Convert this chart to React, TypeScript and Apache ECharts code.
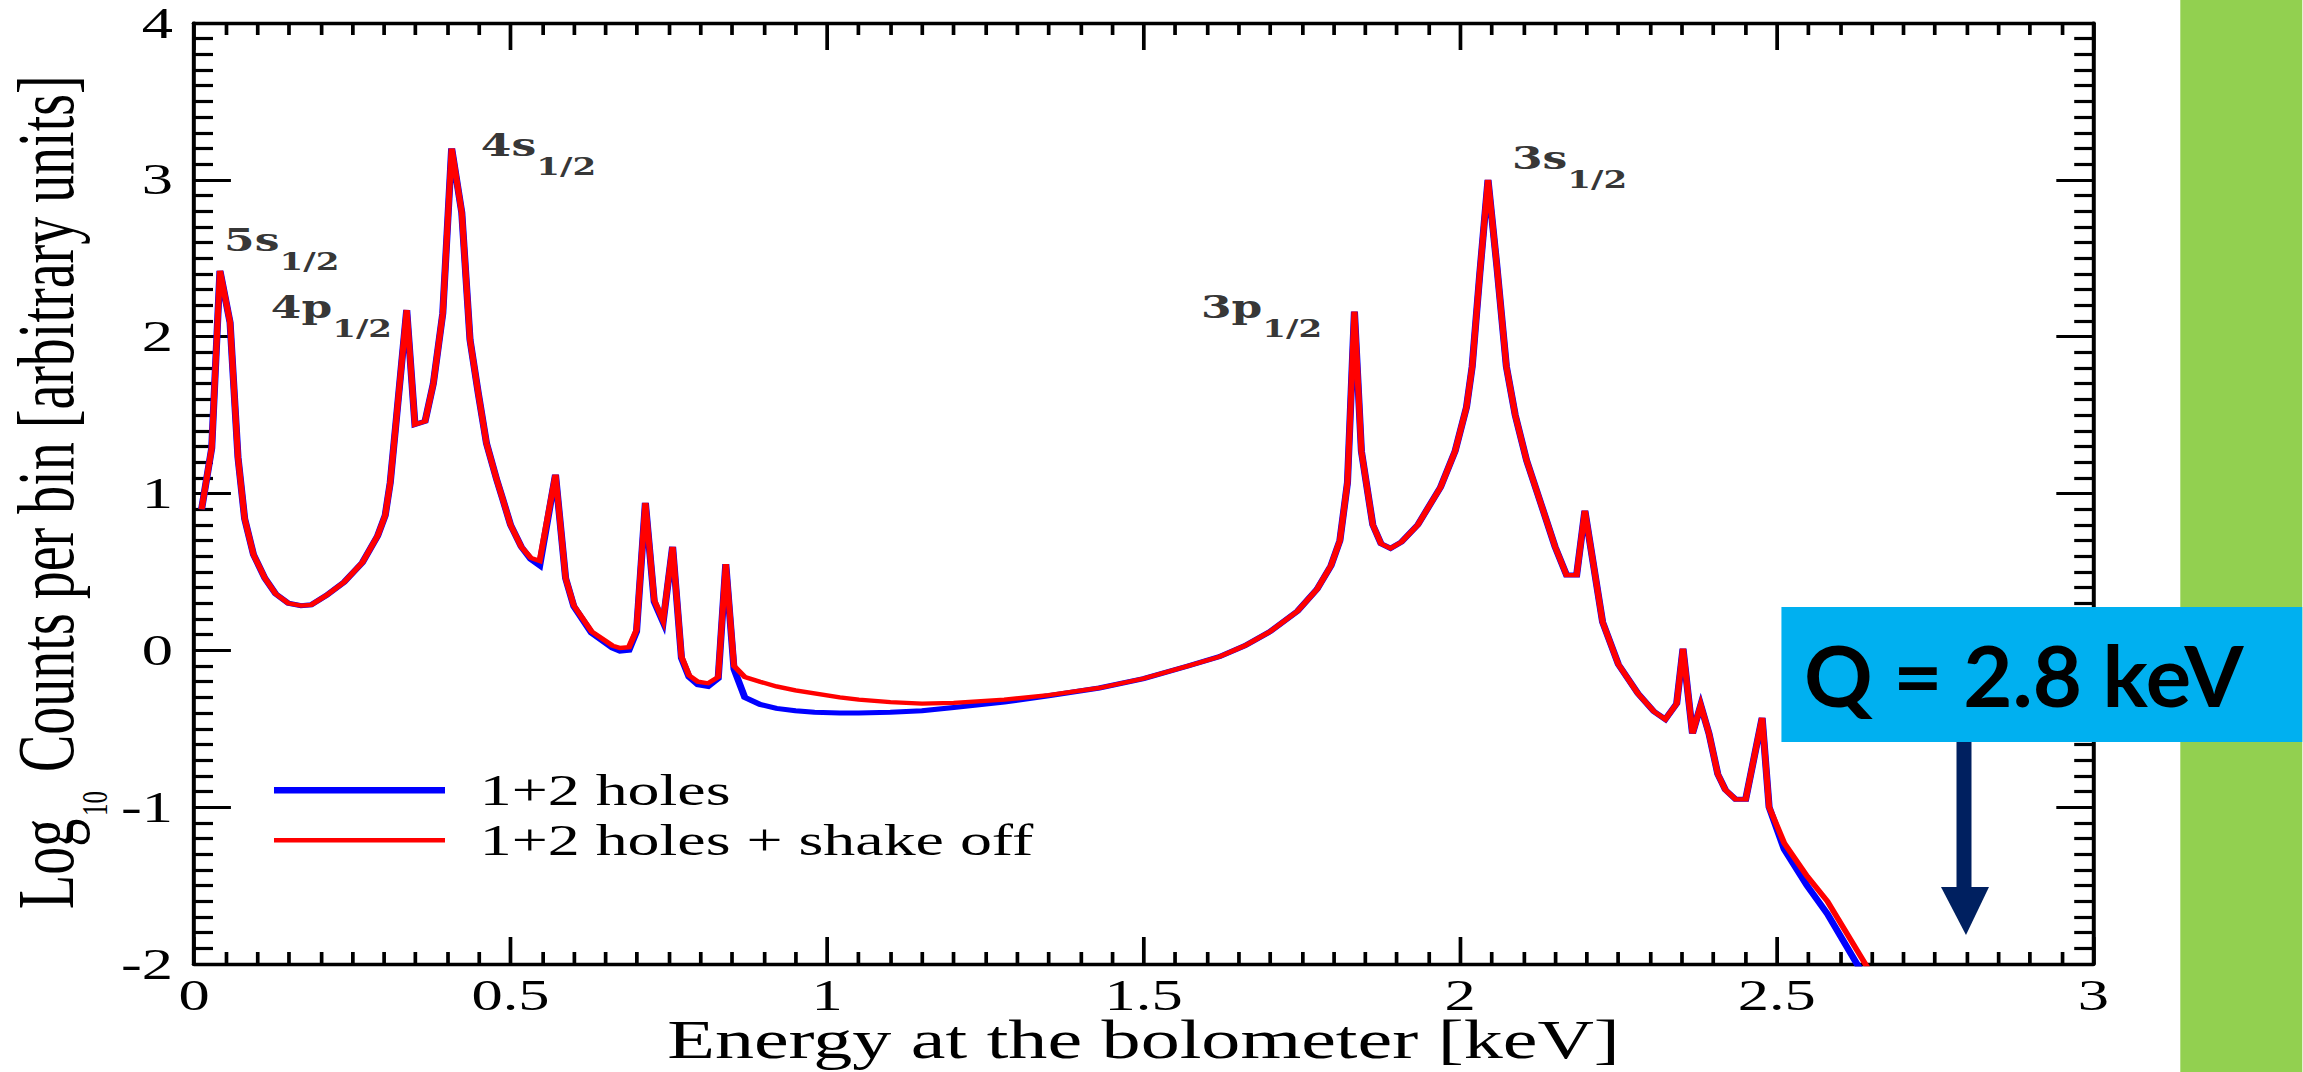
import React, { useEffect, useRef } from 'react';
import * as echarts from 'echarts';

// ---------------- data ----------------
const energyKeV = [
  0.012, 0.028, 0.041, 0.057, 0.0695, 0.080, 0.094, 0.112, 0.129, 0.149,
  0.169, 0.185, 0.209, 0.237, 0.266, 0.290, 0.302, 0.310, 0.320, 0.336,
  0.349, 0.365, 0.378, 0.393, 0.407, 0.423, 0.436, 0.449, 0.462, 0.478,
  0.488, 0.500, 0.517, 0.532, 0.546, 0.571, 0.587, 0.600, 0.628, 0.661,
  0.673, 0.687, 0.699, 0.713, 0.727, 0.741, 0.756, 0.770, 0.782, 0.796,
  0.812, 0.828, 0.840, 0.853, 0.870, 0.894, 0.920, 0.950, 0.980, 1.020,
  1.050, 1.100, 1.150, 1.200, 1.280, 1.350, 1.430, 1.500, 1.570, 1.620,
  1.660, 1.700, 1.743, 1.774, 1.796, 1.810, 1.822, 1.833, 1.844, 1.862,
  1.875, 1.890, 1.907, 1.933, 1.969, 1.992, 2.010, 2.019, 2.031, 2.044,
  2.058, 2.073, 2.087, 2.105, 2.128, 2.150, 2.168, 2.184, 2.197, 2.225,
  2.250, 2.281, 2.306, 2.324, 2.342, 2.352, 2.367, 2.380, 2.393, 2.407,
  2.419, 2.435, 2.451, 2.477, 2.488, 2.512, 2.548, 2.580, 2.640, 2.660,
];

// "1+2 holes" (blue)
const logCountsHoles = [
  0.90, 1.29, 2.42, 2.09, 1.23, 0.84, 0.61, 0.46, 0.36, 0.30,
  0.285, 0.29, 0.35, 0.435, 0.56, 0.73, 0.86, 1.07, 1.49, 2.17,
  1.44, 1.46, 1.70, 2.15, 3.20, 2.79, 1.98, 1.64, 1.32, 1.09,
  0.96, 0.80, 0.66, 0.58, 0.54, 1.12, 0.46, 0.28, 0.11, 0.015,
  -0.005, 0.0, 0.12, 0.94, 0.31, 0.18, 0.66, -0.05, -0.17, -0.22,
  -0.23, -0.18, 0.55, -0.12, -0.30, -0.345, -0.37, -0.385, -0.395, -0.40,
  -0.40, -0.395, -0.385, -0.365, -0.33, -0.29, -0.24, -0.18, -0.10, -0.04,
  0.03, 0.12, 0.25, 0.39, 0.54, 0.70, 1.07, 2.16, 1.27, 0.80,
  0.68, 0.65, 0.69, 0.80, 1.04, 1.27, 1.55, 1.81, 2.40, 3.00,
  2.45, 1.81, 1.50, 1.21, 0.93, 0.66, 0.48, 0.48, 0.89, 0.18,
  -0.09, -0.276, -0.39, -0.44, -0.34, 0.01, -0.53, -0.35, -0.53, -0.79,
  -0.89, -0.95, -0.95, -0.43, -1.0, -1.27, -1.50, -1.68, -2.09, -2.23,
];

// "1+2 holes + shake off" (red)
const logCountsShakeOff = [
  0.90, 1.29, 2.42, 2.09, 1.23, 0.84, 0.61, 0.46, 0.36, 0.30,
  0.285, 0.29, 0.35, 0.435, 0.56, 0.73, 0.86, 1.07, 1.49, 2.17,
  1.44, 1.46, 1.70, 2.15, 3.20, 2.79, 1.98, 1.64, 1.32, 1.09,
  0.96, 0.80, 0.66, 0.59, 0.57, 1.12, 0.46, 0.285, 0.12, 0.03,
  0.015, 0.02, 0.13, 0.94, 0.32, 0.19, 0.66, -0.04, -0.16, -0.20,
  -0.21, -0.17, 0.55, -0.10, -0.17, -0.20, -0.23, -0.255, -0.275, -0.30,
  -0.315, -0.33, -0.34, -0.335, -0.315, -0.285, -0.24, -0.18, -0.10, -0.04,
  0.03, 0.12, 0.25, 0.39, 0.54, 0.70, 1.07, 2.16, 1.27, 0.80,
  0.68, 0.65, 0.69, 0.80, 1.04, 1.27, 1.55, 1.81, 2.40, 3.00,
  2.45, 1.81, 1.50, 1.21, 0.93, 0.66, 0.48, 0.48, 0.89, 0.18,
  -0.09, -0.276, -0.39, -0.44, -0.34, 0.01, -0.53, -0.35, -0.53, -0.79,
  -0.89, -0.95, -0.95, -0.43, -1.0, -1.23, -1.44, -1.60, -2.0, -2.14,
];

const seriesNames = ['1+2 holes', '1+2 holes + shake off'];

// peak annotations (top-left anchor of each label, in data coordinates)
const peakNames = ['5s', '4p', '4s', '3p', '3s'];
const peakSubscript = '1/2';
const peakLabelEnergy = [0.0487, 0.1224, 0.4542, 1.5916, 2.0829];
const peakLabelLog = [2.7095, 2.282, 3.315, 2.288, 3.2325];

const xAxisTitle = 'Energy at the bolometer [keV]';
const yTitleMain = 'Log';
const yTitleSub = '10';
const yTitleRest = 'Counts per bin [arbitrary units]';
const qLabel = 'Q = 2.8 keV';
const qValueKeV = 2.8;

// ---------------- layout ----------------
const W = 2303;
const H = 1072;
const S = 1.42; // horizontal stretch of the original figure
const CW = W / S;
const serif = '"Liberation Serif", "Times New Roman", serif';
const GRID_LEFT = 194;
const GRID_RIGHT = 2093;
const GRID_TOP = 23;
const GRID_BOTTOM = 964;

const xCommon: any = {
  type: 'value',
  min: 0,
  max: 3,
  interval: 0.5,
  axisLine: { show: true, onZero: false, lineStyle: { color: '#000', width: 3.3 } },
  axisTick: { show: true, inside: true, length: 27, lineStyle: { color: '#000', width: 2.6 } },
  minorTick: { show: true, splitNumber: 10, length: 12, lineStyle: { color: '#000', width: 2.6 } },
  splitLine: { show: false },
  minorSplitLine: { show: false },
};

const yCommon: any = {
  type: 'value',
  min: -2,
  max: 4,
  interval: 1,
  axisLine: { show: true, onZero: false, lineStyle: { color: '#000', width: 2.8 } },
  axisTick: { show: true, inside: true, length: 26, lineStyle: { color: '#000', width: 3.2 } },
  minorTick: { show: true, splitNumber: 10, length: 13.4, lineStyle: { color: '#000', width: 3.2 } },
  splitLine: { show: false },
  minorSplitLine: { show: false },
};

function buildOption(): any {
  const legendCommon = {
    left: 274 / S,
    padding: 0,
    icon: 'rect',
    itemWidth: 171 / S,
    selectedMode: false,
    itemStyle: { borderWidth: 0 },
    textStyle: { fontFamily: serif, fontSize: 45, lineHeight: 42, color: '#000', padding: [0, 0, 6, 19.5] },
  };
  return {
    animation: false,
    backgroundColor: '#fff',
    textStyle: { fontFamily: serif },
    grid: {
      left: GRID_LEFT / S,
      right: (W - GRID_RIGHT) / S,
      top: GRID_TOP,
      bottom: H - GRID_BOTTOM,
      containLabel: false,
      outerBoundsMode: 'none',
    },
    legend: [
      { ...legendCommon, top: 790.3 - 24, itemHeight: 6.5, data: [{ name: seriesNames[0] }] },
      { ...legendCommon, top: 840.2 - 24, itemHeight: 4.4, data: [{ name: seriesNames[1] }] },
    ],
    xAxis: [
      {
        ...xCommon,
        position: 'bottom',
        axisLabel: { show: true, fontFamily: serif, fontSize: 44, color: '#000', margin: 9 },
      },
      { ...xCommon, position: 'top', axisLabel: { show: false } },
    ],
    yAxis: [
      {
        ...yCommon,
        position: 'left',
        axisLabel: { show: true, fontFamily: serif, fontSize: 44, color: '#000', margin: 14.8 },
      },
      { ...yCommon, position: 'right', axisLabel: { show: false } },
    ],
    series: [
      {
        type: 'line',
        name: seriesNames[0],
        data: energyKeV.map((e, i) => [e, logCountsHoles[i]]),
        symbol: 'none',
        showSymbol: false,
        silent: true,
        z: 2,
        itemStyle: { color: '#0000FF' },
        lineStyle: { color: '#0000FF', width: 5, join: 'miter', miterLimit: 6 },
      },
      {
        type: 'line',
        name: seriesNames[1],
        data: energyKeV.map((e, i) => [e, logCountsShakeOff[i]]),
        symbol: 'none',
        showSymbol: false,
        silent: true,
        z: 3,
        itemStyle: { color: '#FF0000' },
        lineStyle: { color: '#FF0000', width: 4.3, join: 'miter', miterLimit: 6 },
      },
      {
        type: 'scatter',
        name: 'peaks',
        data: peakLabelEnergy.map((e, i) => [e, peakLabelLog[i]]),
        symbolSize: 1,
        silent: true,
        z: 4,
        itemStyle: { color: 'rgba(0,0,0,0)' },
        label: {
          show: true,
          position: [0, 0],
          align: 'left',
          verticalAlign: 'top',
          color: '#000',
          formatter: (p: any) => `{m|${peakNames[p.dataIndex]}}{s|${peakSubscript}}`,
          rich: {
            m: { fontFamily: '"DejaVu Serif", serif', fontWeight: 'bold', fontSize: 31, lineHeight: 32, verticalAlign: 'top', color: '#000' },
            s: { fontFamily: '"DejaVu Serif", serif', fontWeight: 'bold', fontSize: 24, lineHeight: 24, padding: [25, 0, 0, 0], verticalAlign: 'top', color: '#000' },
          },
        },
      },
    ],
  };
}

function buildGraphics(arrowX: number): any {
  const titleMain = { fontFamily: serif, fontSize: 56, fill: '#000', align: 'left', verticalAlign: 'middle' };
  return [
    // x-axis title (centred under the plot)
    {
      type: 'text',
      z: 50,
      x: (GRID_LEFT + GRID_RIGHT) / 2 / S,
      y: 1039.5,
      silent: true,
      style: { text: xAxisTitle, fontFamily: serif, fontSize: 55, fill: '#000', align: 'center', verticalAlign: 'middle' },
    },
    // y-axis title, reading bottom to top (chart pixels, before the horizontal stretch)
    { type: 'text', z: 50, x: 32.7, y: 909, rotation: Math.PI / 2, silent: true, style: { ...titleMain, text: yTitleMain } },
    { type: 'text', z: 50, x: 67.3, y: 816, rotation: Math.PI / 2, silent: true, style: { ...titleMain, fontSize: 25, text: yTitleSub } },
    { type: 'text', z: 50, x: 32.7, y: 772, rotation: Math.PI / 2, silent: true, style: { ...titleMain, text: yTitleRest } },
    // slide overlay, drawn in picture pixels
    {
      type: 'group',
      x: 0,
      y: 0,
      scaleX: 1 / S,
      z: 100,
      silent: true,
      children: [
        { type: 'rect', z: 100, shape: { x: 2181, y: 0, width: W - 2181, height: H }, style: { fill: '#92D050' } },
        { type: 'rect', z: 101, shape: { x: arrowX - 9.5, y: 740, width: 15, height: 148 }, style: { fill: '#002060' } },
        { type: 'polygon', z: 101, shape: { points: [[arrowX - 25, 887], [arrowX + 23, 887], [arrowX, 935]] }, style: { fill: '#002060' } },
        { type: 'rect', z: 102, shape: { x: 1782, y: 607, width: W - 1782, height: 135 }, style: { fill: '#00B0F0' } },
        {
          type: 'text',
          z: 103,
          x: 1804,
          y: 674,
          style: { text: qLabel, fontFamily: 'Lato, "Open Sans", sans-serif', fontWeight: 'bold', fontSize: 85, fill: '#000', align: 'left', verticalAlign: 'middle' },
        },
      ],
    },
  ];
}

export default function App() {
  const ref = useRef<HTMLDivElement>(null);
  useEffect(() => {
    const el = ref.current;
    if (!el) return;
    const chart = echarts.init(el, undefined, { renderer: 'svg' });
    chart.setOption(buildOption());
    const px = chart.convertToPixel({ xAxisIndex: 0 }, qValueKeV) as number;
    chart.setOption({ graphic: buildGraphics(px * S) });
    return () => chart.dispose();
  }, []);
  return (
    <div style={{ position: 'fixed', left: 0, top: 0, width: W, height: H, overflow: 'hidden', background: '#fff' }}>
      <div
        ref={ref}
        style={{ position: 'absolute', left: 0, top: 0, width: CW, height: H, transform: `scaleX(${S})`, transformOrigin: '0 0' }}
      />
    </div>
  );
}
